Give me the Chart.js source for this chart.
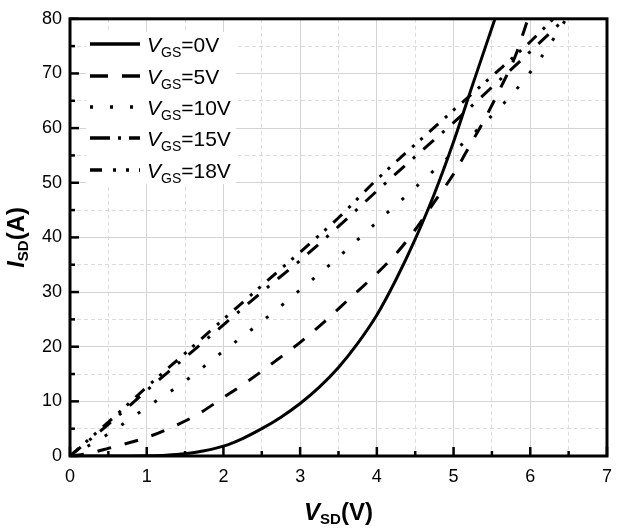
<!DOCTYPE html>
<html>
<head>
<meta charset="utf-8">
<script src="https://cdn.jsdelivr.net/npm/chart.js@4.4.1/dist/chart.umd.min.js"></script>
<style>
  html, body { margin: 0; padding: 0; background: #ffffff; }
  #wrap { position: relative; width: 622px; height: 529px; }
</style>
</head>
<body>
<div id="wrap"><canvas id="chart" width="622" height="529"></canvas></div>
<script>
// Reverse conduction curves I_SD vs V_SD for several gate voltages
const seriesNames = ['0V', '5V', '10V', '15V', '18V'];

const vsd_0V = [0, 0.5, 1.0, 1.25, 1.5, 1.75, 2.0, 2.25, 2.5, 2.75, 3.0, 3.25, 3.5, 3.75, 4.0, 4.25, 4.5, 4.75, 5.0, 5.25, 5.54];
const isd_0V = [0, 0, 0.05, 0.15, 0.4, 0.95, 1.8, 3.2, 5.0, 7.1, 9.6, 12.6, 16.2, 20.6, 25.8, 32.3, 39.7, 48.0, 57.5, 68.0, 80];

const vsd_5V = [0, 0.25, 0.5, 1.0, 1.3, 1.65, 2.0, 2.35, 2.7, 3.0, 3.35, 3.65, 4.0, 4.25, 4.5, 4.75, 5.0, 5.2, 5.4, 5.6, 5.8, 5.97];
const isd_5V = [0, 0.5, 1.4, 3.4, 5.1, 7.5, 10.7, 14.0, 17.6, 20.8, 25.0, 28.9, 33.4, 37.0, 41.4, 46.5, 51.6, 56.5, 61.5, 67.0, 73.0, 80];

const vsd_10V = [0, 0.45, 1.0, 1.5, 2.0, 2.5, 3.0, 3.5, 4.0, 4.5, 5.0, 5.5, 5.82, 6.14, 6.47];
const isd_10V = [0, 3.6, 8.9, 13.7, 19.2, 24.6, 30.4, 36.4, 42.8, 49.1, 55.6, 62.3, 67.1, 72.9, 80];

const vsd_15V = [0, 0.5, 1.0, 1.5, 2.0, 2.5, 3.0, 3.5, 4.0, 4.5, 5.0, 5.5, 6.0, 6.45];
const isd_15V = [0, 5.8, 12.0, 18.0, 24.0, 30.0, 35.8, 42.0, 48.5, 54.8, 61.0, 67.5, 74.0, 80];

const vsd_18V = [0, 0.5, 1.0, 1.5, 2.0, 2.5, 3.0, 3.5, 4.0, 4.5, 5.0, 5.5, 6.0, 6.3];
const isd_18V = [0, 6.2, 12.6, 18.8, 25.0, 31.2, 37.3, 43.6, 50.6, 57.0, 63.3, 69.5, 75.8, 80];

const xTickValues = [0, 1, 2, 3, 4, 5, 6, 7];
const yTickValues = [0, 10, 20, 30, 40, 50, 60, 70, 80];

const FONT = "'Liberation Sans', Arial, sans-serif";

// line styles: dash pattern on the plot and in the legend key
const styles = [
  { dash: [], key: [] },
  { dash: [14, 14], key: [18, 14] },
  { dash: [3, 17], key: [3, 17] },
  { dash: [14, 11, 3, 11], key: [20, 8, 3, 8] },
  { dash: [12, 9, 3, 8, 3, 9], key: [12, 11, 3, 10, 3, 10] }
];

const xs = [vsd_0V, vsd_5V, vsd_10V, vsd_15V, vsd_18V];
const ys = [isd_0V, isd_5V, isd_10V, isd_15V, isd_18V];

const datasets = seriesNames.map((name, i) => ({
  label: 'VGS=' + name,
  data: xs[i].map((v, k) => ({ x: v, y: ys[i][k] })),
  borderColor: '#000000',
  borderWidth: 3,
  borderDash: styles[i].dash,
  borderCapStyle: 'butt',
  pointRadius: 0,
  fill: false,
  cubicInterpolationMode: 'monotone',
  clip: 0
}));

function runsWidth(ctx, runs) {
  let w = 0;
  for (const r of runs) { ctx.font = r.font; w += ctx.measureText(r.t).width; }
  return w;
}
function drawRuns(ctx, runs, x, y) {
  let cx = x;
  ctx.textBaseline = 'alphabetic';
  ctx.textAlign = 'left';
  for (const r of runs) {
    ctx.font = r.font;
    ctx.fillText(r.t, cx, y + (r.dy || 0));
    cx += ctx.measureText(r.t).width;
  }
}

const decor = {
  id: 'decor',
  beforeDatasetsDraw(chart) {
    // white backing for the key
    const ctx = chart.ctx;
    ctx.save();
    ctx.fillStyle = '#ffffff';
    ctx.fillRect(86, 32, 150, 152);
    ctx.restore();
  },
  afterDatasetsDraw(chart) {
    const ctx = chart.ctx;
    const a = chart.chartArea;
    const xs_ = chart.scales.x, ys_ = chart.scales.y;
    ctx.save();
    ctx.strokeStyle = '#000000';
    ctx.lineCap = 'butt';
    // inward tick marks
    ctx.lineWidth = 2.5;
    for (const t of xs_.ticks) {
      const px = xs_.getPixelForValue(t.value);
      const len = Number.isInteger(t.value) ? 9 : 5;
      ctx.beginPath();
      ctx.moveTo(px, a.bottom);
      ctx.lineTo(px, a.bottom - len);
      ctx.stroke();
    }
    for (const t of ys_.ticks) {
      const py = ys_.getPixelForValue(t.value);
      const len = t.value % 10 === 0 ? 9 : 5;
      ctx.beginPath();
      ctx.moveTo(a.left, py);
      ctx.lineTo(a.left + len, py);
      ctx.stroke();
    }
    // frame
    ctx.lineWidth = 3;
    ctx.strokeRect(a.left, a.top, a.right - a.left, a.bottom - a.top);
    ctx.restore();
  },
  afterDraw(chart) {
    const ctx = chart.ctx;
    const a = chart.chartArea;
    ctx.save();
    ctx.fillStyle = '#000000';

    // key
    const rowY = [44, 76, 107, 138, 170];
    seriesNames.forEach((name, i) => {
      ctx.save();
      ctx.strokeStyle = '#000000';
      ctx.lineWidth = 3.5;
      ctx.lineCap = 'butt';
      ctx.setLineDash(styles[i].key);
      ctx.beginPath();
      ctx.moveTo(90, rowY[i]);
      ctx.lineTo(140, rowY[i]);
      ctx.stroke();
      ctx.restore();
      drawRuns(ctx, [
        { t: 'V', font: 'italic 21px ' + FONT },
        { t: 'GS', font: '14px ' + FONT, dy: 5 },
        { t: '=' + name, font: '21px ' + FONT }
      ], 147, rowY[i] + 8);
    });

    // x axis title
    const xr = [
      { t: 'V', font: 'italic bold 24px ' + FONT },
      { t: 'SD', font: 'bold 15px ' + FONT, dy: 4 },
      { t: '(V)', font: 'bold 24px ' + FONT }
    ];
    const cx = (a.left + a.right) / 2;
    drawRuns(ctx, xr, cx - runsWidth(ctx, xr) / 2, 520);

    // y axis title
    const yr = [
      { t: 'I', font: 'italic bold 24px ' + FONT },
      { t: 'SD', font: 'bold 15px ' + FONT, dy: 4 },
      { t: '(A)', font: 'bold 24px ' + FONT }
    ];
    const cy = (a.top + a.bottom) / 2;
    ctx.translate(24, cy);
    ctx.rotate(-Math.PI / 2);
    drawRuns(ctx, yr, -runsWidth(ctx, yr) / 2, 0);
    ctx.restore();
  }
};

const majorGrid = '#d4d4d4';
const minorGrid = '#dcdcdc';

new Chart(document.getElementById('chart'), {
  type: 'line',
  data: { datasets },
  options: {
    responsive: false,
    animation: false,
    events: [],
    layout: { padding: { left: 0, right: 7, top: 16, bottom: 0 } },
    plugins: { legend: { display: false }, tooltip: { enabled: false } },
    scales: {
      x: {
        type: 'linear',
        min: 0, max: 7,
        afterFit(s) { s.height = 73; },
        afterBuildTicks(s) {
          const t = [];
          for (let v = 0; v <= 14; v++) t.push({ value: v / 2 });
          s.ticks = t;
        },
        ticks: {
          autoSkip: false,
          maxRotation: 0,
          padding: 10,
          color: '#000000',
          font: { family: FONT, size: 18 },
          callback: v => xTickValues.includes(v) ? String(v) : ''
        },
        grid: {
          drawTicks: false,
          lineWidth: 1,
          color: c => (c.tick && Number.isInteger(c.tick.value)) ? majorGrid : minorGrid
        },
        border: {
          display: false,
          dash: c => (c.tick && !Number.isInteger(c.tick.value)) ? [4, 3] : []
        }
      },
      y: {
        type: 'linear',
        min: 0, max: 80,
        afterFit(s) { s.width = 70; },
        afterBuildTicks(s) {
          const t = [];
          for (let v = 0; v <= 80; v += 5) t.push({ value: v });
          s.ticks = t;
        },
        ticks: {
          autoSkip: false,
          padding: 8,
          color: '#000000',
          font: { family: FONT, size: 18 },
          callback: v => yTickValues.includes(v) ? String(v) : ''
        },
        grid: {
          drawTicks: false,
          lineWidth: 1,
          color: c => (c.tick && c.tick.value % 10 === 0) ? majorGrid : minorGrid
        },
        border: {
          display: false,
          dash: c => (c.tick && c.tick.value % 10 !== 0) ? [4, 3] : []
        }
      }
    }
  },
  plugins: [decor]
});
</script>
</body>
</html>
